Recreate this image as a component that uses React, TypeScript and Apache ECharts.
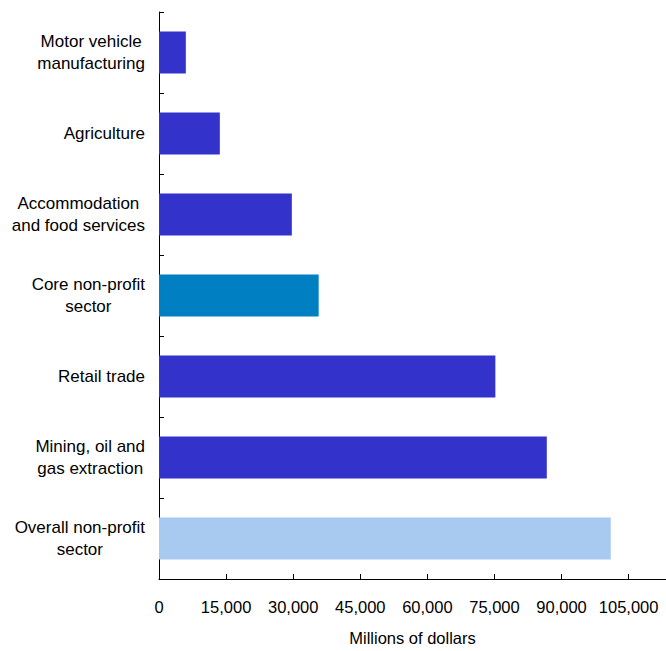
import React, { useEffect, useRef } from "react";
import * as echarts from "echarts";

const categories = [
  "Motor vehicle\nmanufacturing",
  "Agriculture",
  "Accommodation\nand food services",
  "Core non-profit\nsector",
  "Retail trade",
  "Mining, oil and\ngas extraction",
  "Overall non-profit\nsector",
];
const values = [6000, 13600, 29700, 35700, 75200, 86700, 101000];
const barColors = ["#3333CC", "#3333CC", "#3333CC", "#0080C2", "#3333CC", "#3333CC", "#A8CAF0"];
const axisName = "Millions of dollars";

export default function App() {
  const ref = useRef<HTMLDivElement>(null);
  useEffect(() => {
    if (!ref.current) return;
    const chart = echarts.init(ref.current, null, { renderer: "svg" });
    const font = "'Liberation Sans', Arial, sans-serif";
    chart.setOption({
      animation: false,
      backgroundColor: "#ffffff",
      grid: { left: 159, right: 0, top: 12, bottom: 66, containLabel: false },
      xAxis: {
        type: "value",
        min: 0,
        max: 113350,
        interval: 15000,
        name: axisName,
        nameLocation: "middle",
        nameGap: 50,
        nameTextStyle: { color: "#000", fontSize: 16.5, fontFamily: font },
        axisLine: { show: true, lineStyle: { color: "#000", width: 1 } },
        axisTick: { show: true, inside: true, length: 5, lineStyle: { color: "#000" } },
        splitLine: { show: false },
        axisLabel: {
          color: "#000",
          fontSize: 16.5,
          fontFamily: font,
          margin: 19,
          showMaxLabel: false,
          formatter: (v: number) => v.toLocaleString("en-US"),
        },
      },
      yAxis: {
        type: "category",
        inverse: true,
        data: categories,
        axisLine: { show: true, lineStyle: { color: "#000", width: 1 } },
        axisTick: { show: true, inside: true, length: 5, lineStyle: { color: "#000" } },
        axisLabel: {
          color: "#000",
          fontSize: 17,
          fontFamily: font,
          margin: 14,
          lineHeight: 22,
          align: "right",
          formatter: (v: string) =>
            v
              .split("\n")
              .map((l) => `{c|${l}}`)
              .join("\n"),
          rich: {
            c: {
              align: "center",
              color: "#000",
              fontSize: 17,
              fontFamily: font,
              lineHeight: 22,
            },
          },
        },
      },
      series: [
        {
          type: "bar",
          barWidth: 42,
          data: values.map((v, i) => ({ value: v, itemStyle: { color: barColors[i] } })),
        },
      ],
    });
    return () => chart.dispose();
  }, []);
  return (
    <div
      ref={ref}
      style={{ position: "fixed", left: 0, top: 0, width: 666, height: 651 }}
    />
  );
}
